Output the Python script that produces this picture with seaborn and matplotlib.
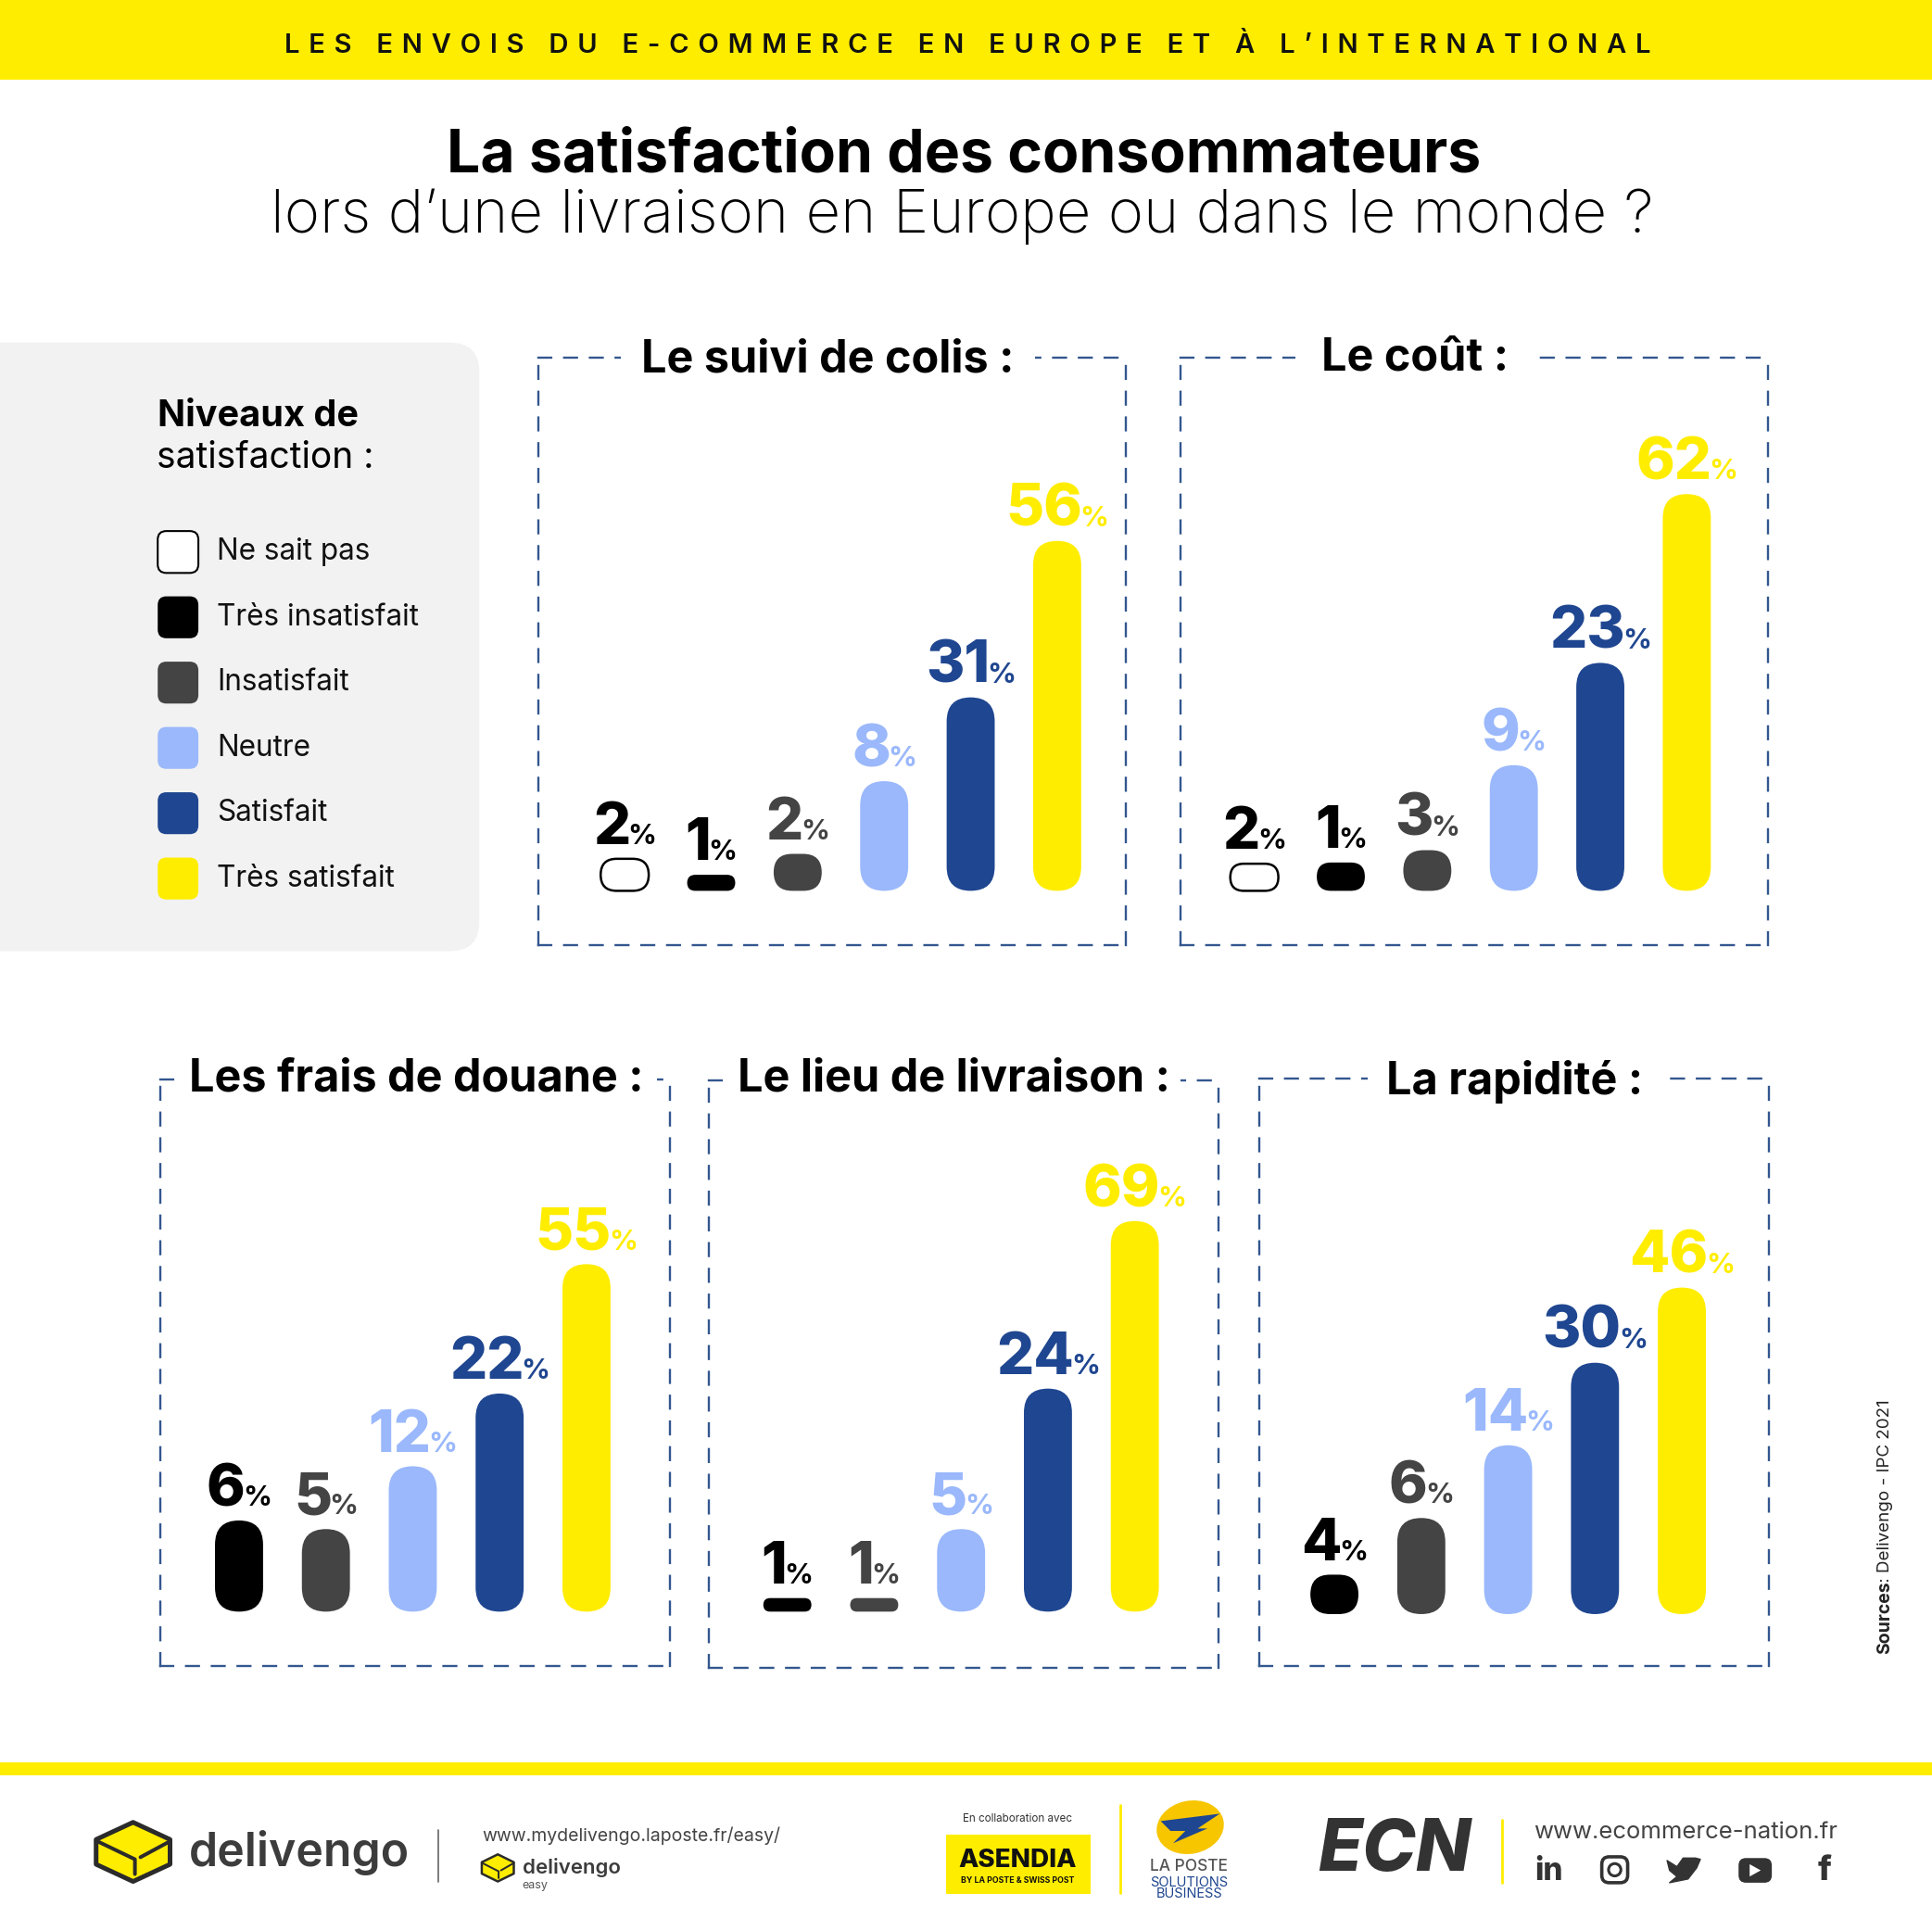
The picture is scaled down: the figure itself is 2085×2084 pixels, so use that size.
import matplotlib
matplotlib.use("Agg")
import matplotlib.pyplot as plt
import pandas as pd
import seaborn as sns
from matplotlib.offsetbox import AnnotationBbox, HPacker, TextArea
from matplotlib.patches import Circle, Ellipse, FancyBboxPatch, Polygon, Rectangle

# niveaux de satisfaction
niveaux = ["Ne sait pas", "Très insatisfait", "Insatisfait", "Neutre", "Satisfait", "Très satisfait"]
couleurs = ["#FFFFFF", "#000000", "#444444", "#9AB8FB", "#1F4690", "#FFED00"]

# pourcentages affichés, et hauteur des barres (pas proportionnelle)
suivi_pct = [2, 1, 2, 8, 31, 56]
suivi_haut = [26, 13, 30, 89, 157, 284]
cout_pct = [2, 1, 3, 9, 23, 62]
cout_haut = [22, 23, 33, 102, 185, 322]
douane_pct = [6, 5, 12, 22, 55]
douane_haut = [74, 67, 118, 177, 282]
lieu_pct = [1, 1, 5, 24, 69]
lieu_haut = [11, 11, 67, 181, 317]
rapidite_pct = [4, 6, 14, 30, 46]
rapidite_haut = [32, 78, 137, 204, 265]

W, H = 1568, 1567.2  # repere de travail, 1 unite = 1.33 px
FONT = "Inter"
JAUNE = "#FFED00"
BLEU = "#1F4690"
GRIS = "#3C3C3C"


def letterspace(txt):
    return "\u2009\u2009".join(txt)


def cube(ax, cx, cy, sx, sy, lw):
    # logo delivengo
    dark = "#2b2b2b"
    ax.add_patch(Polygon([(cx, cy - sy), (cx + sx, cy - .42 * sy), (cx + sx, cy + .42 * sy), (cx, cy + sy),
                          (cx - sx, cy + .42 * sy), (cx - sx, cy - .42 * sy)],
                         fc=JAUNE, ec=dark, lw=lw, joinstyle="round"))
    ax.plot([cx - sx, cx + .05 * sx, cx + .05 * sx], [cy - .38 * sy, cy + .25 * sy, cy + .75 * sy], color=dark, lw=lw * .8)
    ax.plot([cx + .2 * sx, cx + sx], [cy + .18 * sy, cy - .36 * sy], color=dark, lw=lw * .8)


def panel(fig, titre, pct, haut, box, c0, spacing, title_x, title_y, pad):
    x0, y0, x1, y1, base = box
    ax = fig.add_axes([x0 / W, 1 - y1 / H, (x1 - x0) / W, (y1 - y0) / H])
    ax.patch.set_alpha(0)
    sel = niveaux[-len(pct):]
    df = pd.DataFrame({"niveau": sel, "hauteur": haut, "pct": pct})
    sns.barplot(data=df, x="niveau", y="hauteur", hue="niveau", hue_order=sel, order=sel, saturation=1,
                palette=dict(zip(niveaux, couleurs)), width=39 / spacing, legend=False, ax=ax)
    ax.set_xlim((x0 - c0) / spacing, (x1 - c0) / spacing)
    ax.set_ylim(base - y1, base - y0)
    ax.set(xlabel="", ylabel="", xticks=[], yticks=[])
    for s in ax.spines.values():
        s.set_visible(True)
        s.set_color("#33578F")
        s.set_linewidth(1.7)
        s.set_linestyle((0, (10, 10)))

    # barres arrondies a partir de celles de seaborn
    for bar, n, p, h in zip(list(ax.patches), sel, pct, haut):
        x, w = bar.get_x(), bar.get_width()
        fc = bar.get_facecolor()
        r = min(w / 2, h / 2 / spacing)
        blanc = n == "Ne sait pas"
        ax.add_patch(FancyBboxPatch((x, 0), w, h, boxstyle=f"round,pad=0,rounding_size={r}",
                                    mutation_aspect=spacing, fc=fc, ec="black" if blanc else "none",
                                    lw=1.8 if blanc else 0))
        bar.remove()
        col = "#000000" if blanc else fc
        nb = TextArea(str(p), textprops=dict(color=col, size=45.5, weight="heavy", family=FONT))
        sg = TextArea("%", textprops=dict(color=col, size=22, weight="bold", family=FONT))
        pack = HPacker(children=[nb, sg], align="baseline", pad=0, sep=-2)
        ab = AnnotationBbox(pack, (x + w / 2, h), xybox=(0, 2), xycoords="data",
                            boxcoords="offset points", box_alignment=(.5, 0), frameon=False)
        ax.add_artist(ab)

    ax.text((title_x - x0) / (x1 - x0), (y1 - title_y) / (y1 - y0), titre, transform=ax.transAxes, ha="center", va="center",
            size=35, weight="bold", family=FONT, color="black", zorder=5,
            bbox=dict(fc="white", ec="none", pad=pad))
    return ax


sns.set_theme(style="white")
plt.rcParams["font.family"] = [FONT, "DejaVu Sans"]
plt.rcParams["lines.scale_dashes"] = False

fig = plt.figure(figsize=(20.85, 20.84), dpi=100, facecolor="white")
bg = fig.add_axes([0, 0, 1, 1])
bg.set_xlim(0, W)
bg.set_ylim(H, 0)
bg.axis("off")

# bandeau haut et titre
bg.add_patch(Rectangle((0, 0), W, 65, fc=JAUNE, ec="none"))
bg.text(785, 37, letterspace("LES ENVOIS DU E-COMMERCE EN EUROPE ET À L’INTERNATIONAL"),
        ha="center", va="center", size=21, weight="semibold", color="#111111")
bg.text(782, 127, "La satisfaction des consommateurs", ha="center", va="center", size=46.3, weight="bold", color="black")
bg.text(781, 176, "lors d’une livraison en Europe ou dans le monde ?", ha="center", va="center", size=47,
        weight="light", color="black")

# legende
bg.add_patch(FancyBboxPatch((-40, 278), 429, 494, boxstyle="round,pad=0,rounding_size=24", fc="#F2F2F2", ec="none"))
bg.text(128, 338, "Niveaux de", va="center", size=28.5, weight="bold", color="black")
bg.text(127, 372, "satisfaction :", va="center", size=28, weight="normal", color="black")
leg_y = [448, 501, 554, 607, 660, 713]
for n, c, y in zip(niveaux, couleurs, leg_y):
    bg.add_patch(FancyBboxPatch((128, y - 17), 33, 34, boxstyle="round,pad=0,rounding_size=7", fc=c,
                                ec="black" if c == "#FFFFFF" else "none", lw=1.5))
    bg.text(176, y, n, va="center", size=22.7, weight="normal", color="#111111")

# les cinq blocs
panel(fig, "Le suivi de colis :", suivi_pct, suivi_haut, (437, 290, 914, 767, 723), 507, 70.2, 672, 292, 16)
panel(fig, "Le coût :", cout_pct, cout_haut, (958, 290, 1435, 767, 723), 1018, 70.2, 1148, 291, 20)
panel(fig, "Les frais de douane :", douane_pct, douane_haut, (130, 876, 544, 1352, 1308), 194, 70.5, 338, 876, 10)
panel(fig, "Le lieu de livraison :", lieu_pct, lieu_haut, (575, 877, 989, 1354, 1308), 639, 70.5, 774, 876, 8)
panel(fig, "La rapidité :", rapidite_pct, rapidite_haut, (1022, 875, 1436, 1352, 1310), 1083, 70.5, 1229, 878, 14)

# source
bg.text(1530, 1342, "Sources", rotation=90, ha="center", va="bottom", size=14, weight="bold", color="#222222")
bg.text(1530, 1288, " : Delivengo - IPC 2021", rotation=90, ha="center", va="bottom", size=13.5, weight="normal", color="#222222")

# pied de page
bg.add_patch(Rectangle((0, 1430), W, 11, fc=JAUNE, ec="none"))
cube(bg, 108, 1503, 30, 24, 3.6)
bg.text(153, 1504, "delivengo", va="center", size=36, weight="semibold", color=GRIS)
bg.plot([356, 356], [1485, 1527], color="#666666", lw=1.2)
bg.text(391, 1490, "www.mydelivengo.laposte.fr/easy/", va="center", size=14, color="#444444")
cube(bg, 404, 1516, 13, 11, 1.8)
bg.text(424, 1516, "delivengo", va="center", size=16, weight="semibold", color=GRIS)
bg.text(424, 1530, "easy", va="center", size=9, color="#555555")

bg.text(826, 1476, "En collaboration avec", ha="center", va="center", size=8.4, color="#333333")
bg.add_patch(Rectangle((768, 1489), 117, 48, fc=JAUNE, ec="none"))
bg.text(826, 1510, "ASENDIA", ha="center", va="center", size=20, weight="heavy", color="#111111")
bg.text(826, 1526, "BY LA POSTE & SWISS POST", ha="center", va="center", size=6.3, weight="bold", color="#111111")
bg.plot([909, 909], [1465, 1536], color=JAUNE, lw=2)
bg.add_patch(Ellipse((966, 1483), 55, 43, angle=-12, fc="#F7C600", ec="none"))
bg.add_patch(Polygon([(942, 1478), (990, 1472), (972, 1484), (980, 1484), (952, 1496), (962, 1486), (950, 1486)],
                     fc=BLEU, ec="none"))
bg.text(965, 1515, "LA POSTE", ha="center", va="center", size=12.5, weight="medium", color="#555555")
bg.text(965, 1528, "SOLUTIONS", ha="center", va="center", size=10.5, color=BLEU)
bg.text(965, 1537, "BUSINESS", ha="center", va="center", size=10.5, color=BLEU)

bg.text(1132, 1503, "ECN", ha="center", va="center", size=56, weight="heavy", style="italic", color="#333333")
bg.plot([1219, 1219], [1477, 1528], color=JAUNE, lw=2)
bg.text(1245, 1487, "www.ecommerce-nation.fr", va="center", size=18.5, color="#444444")
bg.text(1257, 1519, "in", ha="center", va="center", size=24, weight="heavy", color="#333333")
bg.add_patch(FancyBboxPatch((1300, 1507), 21, 21, boxstyle="round,pad=0,rounding_size=6", fc="none", ec="#333333", lw=2.6))
bg.add_patch(Circle((1310.5, 1517.5), 5, fc="none", ec="#333333", lw=2.2))
bg.add_patch(Polygon([(1353, 1510), (1361, 1515), (1366, 1508), (1376, 1508), (1380, 1509), (1377, 1516), (1370, 1525),
                      (1355, 1528), (1361, 1523), (1355, 1518)], fc="#333333", ec="#333333", lw=1, joinstyle="round"))
bg.add_patch(FancyBboxPatch((1411, 1508), 27, 20, boxstyle="round,pad=0,rounding_size=6", fc="#333333", ec="none"))
bg.add_patch(Polygon([(1420, 1513), (1429, 1518), (1420, 1523)], fc="white", ec="none"))
bg.text(1481, 1519, "f", ha="center", va="center", size=26, weight="heavy", color="#333333")

fig.savefig("out.png", dpi=100)
